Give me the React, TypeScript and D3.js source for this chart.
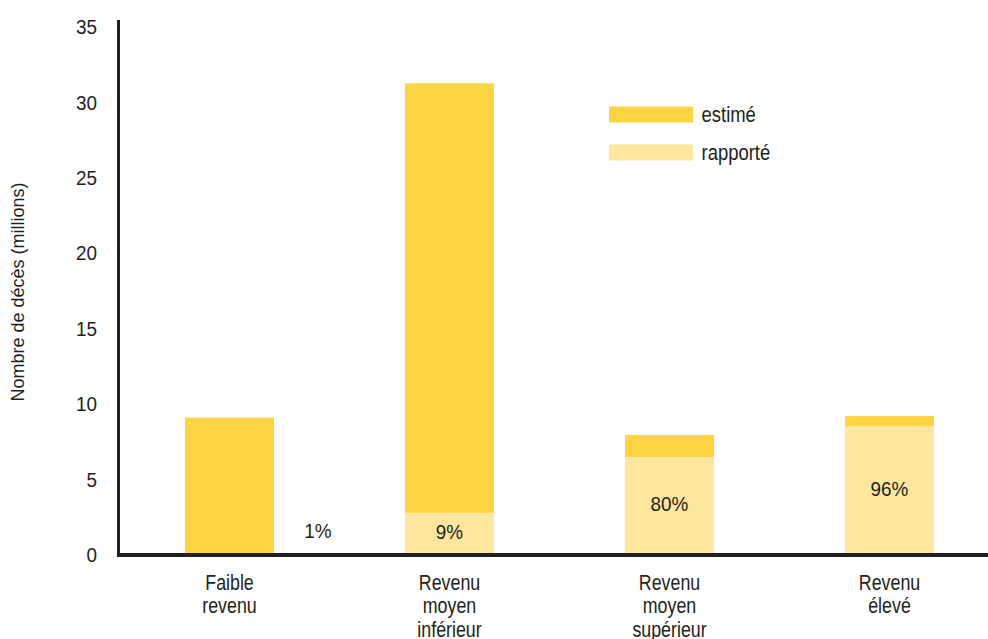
import React, { useEffect, useRef } from 'react';
import * as d3 from 'd3';

const categories = ['Faible revenu', 'Revenu moyen inférieur', 'Revenu moyen supérieur', 'Revenu élevé'];
const categoryLines = [['Faible', 'revenu'], ['Revenu', 'moyen', 'inférieur'], ['Revenu', 'moyen', 'supérieur'], ['Revenu', 'élevé']];
const estimated = [9.1, 31.25, 7.95, 9.2];
const reported = [0.09, 2.8, 6.5, 8.55];
const percentLabels = ['1%', '9%', '80%', '96%'];
const yTicks = [0, 5, 10, 15, 20, 25, 30, 35];
const legendLabels = ['estimé', 'rapporté'];

const COLOR_EST = '#FDD443';
const COLOR_REP = '#FDE69E';
const INK = '#231F20';
const FONT = '"Liberation Sans", Arial, sans-serif';

// narrow look: Liberation Sans squeezed horizontally
const squeeze = (x: number, y: number, k: number) => `translate(${x},${y}) scale(${k},1)`;

const App: React.FC = () => {
  const svgRef = useRef<SVGSVGElement | null>(null);

  useEffect(() => {
    document.body.style.margin = '0';
    const svg = d3.select(svgRef.current);
    svg.selectAll('*').remove();
    const width = 988;
    const height = 639;

    svg.attr('width', width).attr('height', height)
      .style('font-family', FONT);

    const x = d3.scaleBand()
      .domain(categories)
      .range([119.5, 999.5])
      .paddingInner(0.5955)
      .paddingOuter(0.29775);

    const y = d3.scaleLinear()
      .domain([0, 35])
      .range([555, 26.7]);

    // Estimated (full) bars.
    svg.append('g')
      .selectAll('rect')
      .data(categories)
      .enter()
      .append('rect')
      .attr('x', d => x(d) as number)
      .attr('y', (d, i) => y(estimated[i]))
      .attr('width', x.bandwidth())
      .attr('height', (d, i) => y(0) - y(estimated[i]))
      .attr('fill', COLOR_EST);

    // Reported part.
    svg.append('g')
      .selectAll('rect')
      .data(categories)
      .enter()
      .append('rect')
      .attr('x', d => x(d) as number)
      .attr('y', (d, i) => y(reported[i]))
      .attr('width', x.bandwidth())
      .attr('height', (d, i) => y(0) - y(reported[i]))
      .attr('fill', COLOR_REP);

    // Percent labels (first one sits beside its bar).
    svg.append('g')
      .selectAll('text')
      .data(categories)
      .enter()
      .append('text')
      .attr('transform', (d, i) => squeeze(
        (x(d) as number) + x.bandwidth() / 2 + (i === 0 ? 88.5 : 0),
        i === 0 ? y(0) - 24 : (y(0) + y(reported[i])) / 2 - 2,
        0.9))
      .attr('dy', '0.35em')
      .attr('text-anchor', 'middle')
      .attr('font-size', 21)
      .attr('fill', INK)
      .text((d, i) => percentLabels[i]);

    // Y tick labels.
    svg.append('g')
      .selectAll('text')
      .data(yTicks)
      .enter()
      .append('text')
      .attr('transform', d => squeeze(97, y(d), 0.9))
      .attr('dy', '0.35em')
      .attr('text-anchor', 'end')
      .attr('font-size', 21)
      .attr('fill', INK)
      .text(d => d);

    // Axes lines.
    svg.append('line')
      .attr('x1', 118.5).attr('x2', 118.5)
      .attr('y1', 20).attr('y2', 557)
      .attr('stroke', INK).attr('stroke-width', 3);
    svg.append('line')
      .attr('x1', 117).attr('x2', width)
      .attr('y1', 555).attr('y2', 555)
      .attr('stroke', INK).attr('stroke-width', 4);

    // X category labels.
    const cat = svg.append('g')
      .selectAll('text')
      .data(categories)
      .enter()
      .append('text')
      .attr('transform', d => squeeze((x(d) as number) + x.bandwidth() / 2, 589.5, 0.81))
      .attr('text-anchor', 'middle')
      .attr('font-size', 22)
      .attr('fill', INK);
    cat.selectAll('tspan')
      .data((d, i) => categoryLines[i])
      .enter()
      .append('tspan')
      .attr('x', 0)
      .attr('dy', (d, i) => (i === 0 ? 0 : 24))
      .text(d => d);

    // Y axis label
    svg.append('text')
      .attr('text-anchor', 'middle')
      .attr('transform', 'translate(18,292) rotate(-90)')
      .attr('dy', '0.35em')
      .attr('font-size', 18)
      .attr('fill', INK)
      .text('Nombre de décès (millions)');

    // Legend
    const legend = svg.append('g');
    [COLOR_EST, COLOR_REP].forEach((c, i) => {
      legend.append('rect')
        .attr('x', 609).attr('y', 106.5 + i * 38)
        .attr('width', 84).attr('height', 16)
        .attr('fill', c);
      legend.append('text')
        .attr('transform', squeeze(701.5, 114.5 + i * 38, 0.84))
        .attr('dy', '0.35em')
        .attr('font-size', 22)
        .attr('fill', INK)
        .text(legendLabels[i]);
    });
  }, []);

  return (
    <>
      <svg ref={svgRef} style={{ display: 'block' }}></svg>
    </>
  );
};

export default App;
